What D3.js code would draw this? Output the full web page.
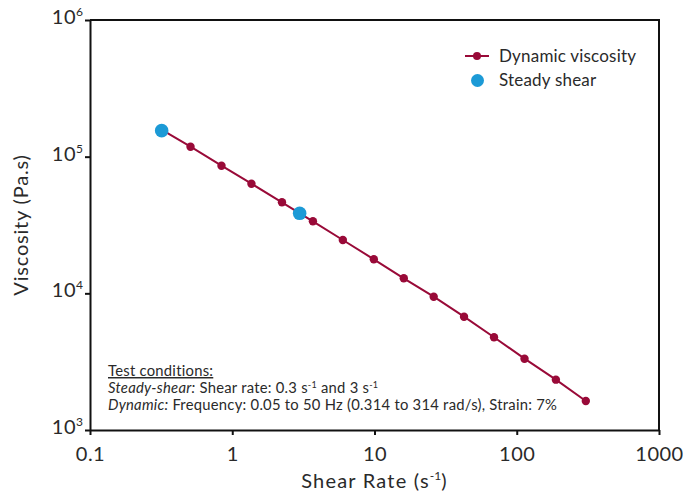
<!DOCTYPE html>
<html>
<head>
<meta charset="utf-8">
<script src="https://cdn.jsdelivr.net/npm/d3@7"></script>
<style>
  html, body { margin: 0; padding: 0; background: #fff; }
  svg { display: block; font-family: Lato, "Open Sans", sans-serif; }
</style>
</head>
<body>
<div id="chart"></div>
<script>
// ---- data ----
const DYN_RATE = [0.314, 0.509, 0.840, 1.364, 2.236, 3.69, 5.99, 9.89, 16.06, 26.07, 42.6, 69.2, 113.4, 188.4, 305.9];
const DYN_VISC = [159000, 118300, 85900, 63400, 46350, 33650, 24550, 17750, 12880, 9450, 6745, 4770, 3325, 2335, 1630];
const STEADY_RATE = [0.319, 2.977];
const STEADY_VISC = [155000, 38500];
const X_TICKS = [0.1, 1, 10, 100, 1000];
const X_TICK_LABELS = ['0.1', '1', '10', '100', '1000'];
const Y_TICKS = [1e3, 1e4, 1e5, 1e6];
const Y_TICK_EXP = ['3', '4', '5', '6'];
const LEGEND = ['Dynamic viscosity', 'Steady shear'];

const RED = '#990a38', BLUE = '#1c9ad6', INK = '#2a2a2a';
const W = 683, H = 494;
const m = { t: 20, r: 24, b: 64, l: 90 };

const svg = d3.select('#chart').append('svg')
  .attr('width', W).attr('height', H).attr('viewBox', `0 0 ${W} ${H}`);

const x = d3.scaleLog().domain([0.1, 1000]).range([m.l, W - m.r]);
const y = d3.scaleLog().domain([1e3, 1e6]).range([H - m.b, m.t]);

// frame (top + right)
svg.append('path')
  .attr('d', `M${m.l},${m.t}H${W - m.r}V${H - m.b}`)
  .attr('fill', 'none').attr('stroke', '#111').attr('stroke-width', 2);

// x axis
const gx = svg.append('g').attr('transform', `translate(0,${H - m.b})`)
  .call(d3.axisBottom(x).tickValues(X_TICKS).tickSize(5).tickSizeOuter(0)
    .tickFormat((d, i) => X_TICK_LABELS[i]));
gx.select('.domain').attr('stroke', '#111').attr('stroke-width', 2);
gx.selectAll('.tick line').attr('stroke', '#111').attr('stroke-width', 2);
gx.selectAll('.tick text').attr('font-size', 20).attr('fill', INK)
  .attr('font-family', 'Lato, sans-serif').attr('letter-spacing', 0.5).attr('y', 17);

// y axis
const gy = svg.append('g').attr('transform', `translate(${m.l},0)`)
  .call(d3.axisLeft(y).tickValues(Y_TICKS).tickSize(5).tickSizeOuter(0).tickFormat(''));
gy.select('.domain').attr('stroke', '#111').attr('stroke-width', 2);
gy.selectAll('.tick line').attr('stroke', '#111').attr('stroke-width', 2);
gy.selectAll('.tick text').each(function (d, i) {
  const t = d3.select(this).attr('font-family', 'Lato, sans-serif')
    .attr('fill', INK).attr('x', -7).attr('dy', '0.35em');
  t.append('tspan').attr('font-size', 20).attr('letter-spacing', 0.5).text('10');
  t.append('tspan').attr('font-size', 12).attr('dy', -8).text(Y_TICK_EXP[i]);
});

// axis titles
const xt = svg.append('text').attr('x', (m.l + W - m.r) / 2).attr('y', 488)
  .attr('text-anchor', 'middle').attr('font-size', 20).attr('letter-spacing', 1.2).attr('fill', INK);
xt.append('tspan').text('Shear Rate (s');
xt.append('tspan').attr('font-size', 12).attr('letter-spacing', 0).attr('dy', -8).text('-1');
xt.append('tspan').attr('dy', 8).text(')');

svg.append('text').attr('transform', `translate(28,${(m.t + H - m.b) / 2}) rotate(-90)`)
  .attr('text-anchor', 'middle').attr('font-size', 20).attr('letter-spacing', 0.8).attr('fill', INK)
  .text('Viscosity (Pa.s)');

// dynamic series
const dyn = DYN_RATE.map((r, i) => ({ r, v: DYN_VISC[i] }));
svg.append('path').datum(dyn)
  .attr('d', d3.line().x(d => x(d.r)).y(d => y(d.v)))
  .attr('fill', 'none').attr('stroke', RED).attr('stroke-width', 2);
svg.append('g').selectAll('circle').data(dyn).join('circle')
  .attr('cx', d => x(d.r)).attr('cy', d => y(d.v)).attr('r', 4.2).attr('fill', RED);

// steady shear
const steady = STEADY_RATE.map((r, i) => ({ r, v: STEADY_VISC[i] }));
svg.append('g').selectAll('circle').data(steady).join('circle')
  .attr('cx', d => x(d.r)).attr('cy', d => y(d.v)).attr('r', 6.8).attr('fill', BLUE);

// legend
const lg = svg.append('g').attr('transform', 'translate(465,56)');
lg.append('line').attr('x1', 0).attr('x2', 24).attr('stroke', RED).attr('stroke-width', 2);
lg.append('circle').attr('cx', 12).attr('r', 4).attr('fill', RED);
lg.append('circle').attr('cx', 12.5).attr('cy', 24.5).attr('r', 6.5).attr('fill', BLUE);
lg.selectAll('text').data(LEGEND).join('text')
  .attr('x', 34).attr('y', (d, i) => i * 24.5).attr('dy', '0.35em')
  .attr('font-size', 17).attr('letter-spacing', 0.2).attr('fill', INK).text(d => d);

// test-conditions note
const note = svg.append('g').attr('font-size', 14.8).attr('letter-spacing', 0.25).attr('fill', INK);
note.append('text').attr('x', 108).attr('y', 376)
  .attr('text-decoration', 'underline').text('Test conditions:');
const l2 = note.append('text').attr('x', 108).attr('y', 393);
l2.append('tspan').attr('font-style', 'italic').text('Steady-shear:');
l2.append('tspan').text(' Shear rate: 0.3 s');
l2.append('tspan').attr('font-size', 9).attr('dy', -5).text('-1');
l2.append('tspan').attr('dy', 5).text(' and 3 s');
l2.append('tspan').attr('font-size', 9).attr('dy', -5).text('-1');
const l3 = note.append('text').attr('x', 108).attr('y', 410);
l3.append('tspan').attr('font-style', 'italic').text('Dynamic:');
l3.append('tspan').text(' Frequency: 0.05 to 50 Hz (0.314 to 314 rad/s), Strain: 7%');
</script>
</body>
</html>
